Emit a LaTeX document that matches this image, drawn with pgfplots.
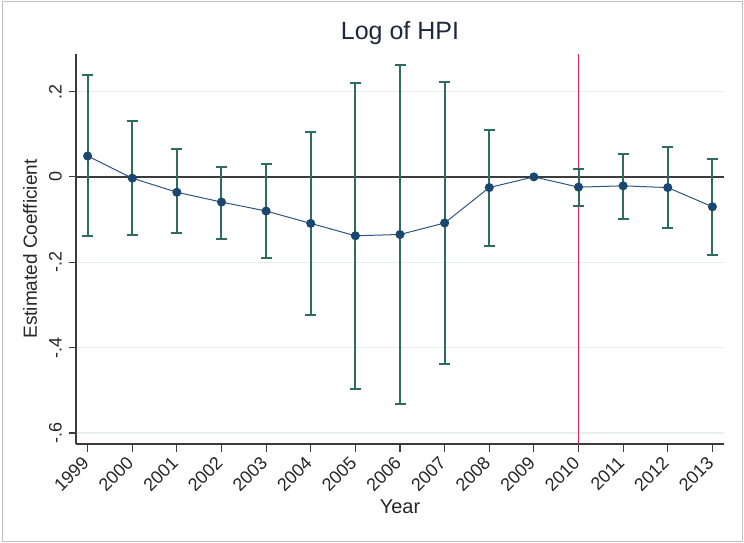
\documentclass[border=0pt]{standalone}
\usepackage{fontspec}
\setmainfont{Liberation Sans}
\usepackage{pgfplots}
\pgfplotsset{compat=1.18}
\usepackage{pgfplotstable}
\definecolor{barteal}{RGB}{45,108,96}
\definecolor{navyc}{RGB}{26,71,111}
\definecolor{linec}{RGB}{50,85,125}
\definecolor{vred}{RGB}{220,40,80}
\definecolor{gridc}{RGB}{230,238,240}
\definecolor{axc}{RGB}{60,60,60}
\definecolor{titlec}{RGB}{30,40,62}

\pgfplotstableread{
year y hi lo
1999 0.049 0.239 -0.138
2000 -0.003 0.131 -0.136
2001 -0.036 0.065 -0.132
2002 -0.059 0.024 -0.145
2003 -0.080 0.030 -0.191
2004 -0.109 0.105 -0.324
2005 -0.138 0.220 -0.496
2006 -0.135 0.262 -0.532
2007 -0.108 0.222 -0.439
2008 -0.025 0.109 -0.162
2010 -0.024 0.019 -0.069
2011 -0.021 0.054 -0.099
2012 -0.025 0.070 -0.120
2013 -0.070 0.043 -0.184
}\est

\pgfplotstableread{
year y
1999 0.049
2000 -0.003
2001 -0.036
2002 -0.059
2003 -0.080
2004 -0.109
2005 -0.138
2006 -0.135
2007 -0.108
2008 -0.025
2009 0.000
2010 -0.024
2011 -0.021
2012 -0.025
2013 -0.070
}\pts

\begin{document}
\begin{tikzpicture}
\path[use as bounding box] (-76pt,-98pt) rectangle (668pt,444pt);
\fill[white] (-76pt,-98pt) rectangle (668pt,444pt);
\draw[black!25, line width=1pt] (-73pt,-97pt) rectangle (666pt,442pt);
\begin{axis}[
  at={(0pt,0pt)}, anchor=south west,
  scale only axis, width=648pt, height=390pt,
  xmin=1998.74, xmax=2013.26,
  ymin=-0.626, ymax=0.288,
  axis lines*=left,
  axis line style={axc, line width=1.3pt},
  xtick={1999,2000,2001,2002,2003,2004,2005,2006,2007,2008,2009,2010,2011,2012,2013},
  xticklabels={1999,2000,2001,2002,2003,2004,2005,2006,2007,2008,2009,2010,2011,2012,2013},
  ytick={-0.6,-0.4,-0.2,0,0.2},
  yticklabels={-.6,-.4,-.2,0,.2},
  tick align=outside,
  major tick length=7.5pt,
  tick style={axc, line width=1.2pt},
  ymajorgrids, grid style={gridc, line width=1.2pt},
  ticklabel style={font=\fontsize{18}{20}\selectfont, text=black!85},
  yticklabel style={rotate=90, anchor=base, inner sep=0pt},
  yticklabel shift=7pt,
  xticklabel style={xshift=-2pt, yshift=-8pt, rotate=45, anchor=east, inner sep=0pt},
  xlabel={Year}, ylabel={Estimated Coefficient},
  label style={text=black!85},
  xlabel style={at={(axis description cs:0.5,-0.177)}, anchor=base, font=\fontsize{20}{22}\selectfont},
  ylabel style={at={(axis description cs:-0.071,0.5)}, anchor=center, font=\fontsize{19}{21}\selectfont},
  title={Log of HPI},
  title style={at={(axis description cs:0.5,1.023)}, anchor=base, font=\fontsize{25}{28}\selectfont, text=titlec},
  clip=false,
]
\addplot[axc, line width=1.3pt, forget plot] coordinates {(1998.74,0) (2013.26,0)};
\addplot[vred, line width=1pt, forget plot] coordinates {(2010,-0.626) (2010,0.288)};
\addplot[only marks, mark=none,
  error bars/.cd, y dir=both, y explicit,
  error bar style={draw=barteal, line width=2pt},
  error mark options={rotate=90, draw=barteal, line width=2pt, mark size=5.5pt}]
  table[x=year, y=y, y error plus expr=\thisrow{hi}-\thisrow{y}, y error minus expr=\thisrow{y}-\thisrow{lo}] {\est};
\addplot[linec, line width=1pt, mark=*, mark size=4pt, mark options={fill=navyc, draw=navyc}]
  table[x=year, y=y] {\pts};
\end{axis}
\end{tikzpicture}
\end{document}
